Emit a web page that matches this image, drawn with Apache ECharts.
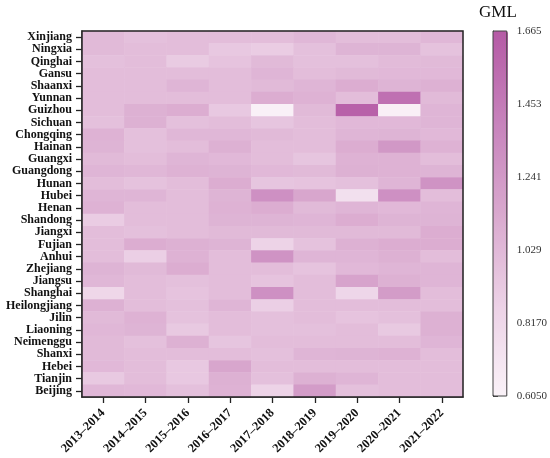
<!DOCTYPE html>
<html>
<head>
<meta charset="utf-8">
<script src="https://cdn.jsdelivr.net/npm/echarts@6/dist/echarts.min.js"></script>
<style>
html,body{margin:0;padding:0;background:#fff;}
#main{width:550px;height:458px;}
</style>
</head>
<body>
<div id="main"></div>
<script>
const years = ['2013–2014','2014–2015','2015–2016','2016–2017','2017–2018','2018–2019','2019–2020','2020–2021','2021–2022'];
const provinces = ['Xinjiang','Ningxia','Qinghai','Gansu','Shaanxi','Yunnan','Guizhou','Sichuan','Chongqing','Hainan','Guangxi','Guangdong','Hunan','Hubei','Henan','Shandong','Jiangxi','Fujian','Anhui','Zhejiang','Jiangsu','Shanghai','Heilongjiang','Jilin','Liaoning','Neimenggu','Shanxi','Hebei','Tianjin','Beijing'];
const gml = [
  [1.02, 0.98, 1.00, 1.00, 1.00, 1.04, 1.00, 1.00, 1.04],
  [1.02, 1.00, 1.00, 0.93, 0.90, 0.98, 1.06, 1.06, 0.97],
  [0.98, 1.00, 0.91, 0.96, 1.02, 0.98, 0.98, 1.01, 1.02],
  [1.00, 1.00, 1.00, 1.00, 1.05, 1.00, 1.02, 1.03, 1.03],
  [1.00, 1.00, 1.05, 1.00, 1.02, 1.05, 1.10, 1.06, 1.08],
  [1.00, 1.00, 1.00, 1.00, 1.10, 1.07, 1.00, 1.52, 1.02],
  [1.00, 1.08, 1.10, 0.93, 0.62, 1.02, 1.62, 0.63, 1.05],
  [0.98, 1.08, 0.98, 1.00, 0.95, 1.00, 1.03, 1.03, 1.05],
  [1.07, 0.98, 1.04, 1.04, 1.02, 1.00, 1.05, 1.06, 1.03],
  [1.06, 0.98, 1.00, 1.08, 1.00, 1.00, 1.10, 1.25, 1.07],
  [1.02, 1.00, 1.05, 1.03, 1.00, 0.95, 1.07, 1.07, 1.00],
  [1.05, 1.04, 1.07, 1.06, 1.03, 1.02, 1.08, 1.07, 1.06],
  [1.00, 0.97, 1.00, 1.10, 0.95, 0.96, 0.98, 1.05, 1.28],
  [1.05, 1.05, 1.00, 1.06, 1.30, 1.15, 0.75, 1.30, 1.00],
  [1.07, 1.00, 1.00, 1.07, 1.10, 1.02, 1.05, 1.03, 1.05],
  [0.90, 1.00, 1.00, 1.06, 1.06, 1.05, 1.10, 1.06, 1.06],
  [1.00, 0.98, 1.00, 1.02, 1.02, 1.02, 1.02, 1.02, 1.10],
  [1.00, 1.10, 1.08, 1.06, 0.85, 0.97, 1.08, 1.10, 1.10],
  [1.00, 0.88, 1.07, 1.00, 1.28, 1.05, 1.05, 1.08, 1.00],
  [1.06, 1.02, 1.10, 1.00, 1.00, 0.96, 1.03, 1.05, 1.05],
  [1.04, 1.00, 0.98, 1.00, 0.96, 1.00, 1.17, 1.08, 1.05],
  [0.82, 1.00, 0.96, 1.00, 1.30, 1.00, 0.83, 1.22, 1.00],
  [1.08, 1.00, 0.98, 1.05, 0.88, 1.00, 1.00, 1.00, 1.00],
  [1.02, 1.07, 0.97, 1.00, 0.98, 1.00, 0.96, 0.98, 1.08],
  [1.04, 1.06, 0.92, 1.00, 0.98, 0.98, 1.00, 0.92, 1.08],
  [1.02, 0.98, 1.08, 0.95, 1.00, 1.00, 1.00, 1.00, 1.05],
  [1.02, 1.00, 1.00, 1.00, 0.98, 1.05, 1.06, 1.07, 1.00],
  [1.03, 1.00, 0.93, 1.15, 1.00, 1.00, 1.00, 1.00, 1.00],
  [0.92, 1.00, 0.93, 1.08, 0.98, 1.08, 1.05, 1.00, 1.00],
  [1.04, 1.03, 0.98, 1.07, 0.85, 1.22, 0.98, 1.00, 1.00]
];
const scaleMin = 0.605, scaleMax = 1.665;
const colorTicks = [0.605, 0.817, 1.029, 1.241, 1.453, 1.665];
const colorTickLabels = ['0.6050', '0.8170', '1.029', '1.241', '1.453', '1.665'];

const cells = [];
provinces.forEach((p, i) => {
  years.forEach((y, j) => { cells.push([j, i, gml[i][j]]); });
});

const serif = '"Liberation Serif", "DejaVu Serif", serif';
const chart = echarts.init(document.getElementById('main'));
chart.setOption({
  animation: false,
  backgroundColor: '#fff',
  title: {
    text: 'GML', left: 479, top: 4, padding: 0,
    textStyle: { fontFamily: serif, fontSize: 17, fontWeight: 'normal', color: '#111' }
  },
  grid: [
    { left: 82, right: 87, top: 31, bottom: 61, show: true, borderColor: '#222', borderWidth: 1.5, z: 5, backgroundColor: 'transparent' },
    { left: 493, width: 15, top: 31, height: 365, show: true, borderColor: '#444', borderWidth: 1, z: 5, backgroundColor: 'transparent' }
  ],
  xAxis: [
    {
      type: 'category', data: years, gridIndex: 0,
      axisLine: { show: true, lineStyle: { color: '#222', width: 1.5 } },
      axisTick: { show: true, alignWithLabel: true, length: 6, lineStyle: { color: '#222', width: 1.3 } },
      axisLabel: { rotate: 45, interval: 0, margin: 14, fontFamily: serif, fontWeight: 'bold', fontSize: 12.5, color: '#111' },
      splitLine: { show: false }
    },
    { type: 'value', gridIndex: 1, show: false, min: 0, max: 1 }
  ],
  yAxis: [
    {
      type: 'category', data: provinces, inverse: true, gridIndex: 0,
      axisLine: { show: true, lineStyle: { color: '#222', width: 1.5 } },
      axisTick: { show: true, alignWithLabel: true, length: 6, lineStyle: { color: '#222', width: 1.3 } },
      axisLabel: { interval: 0, margin: 10, fontFamily: serif, fontWeight: 'bold', fontSize: 12, color: '#111' },
      splitLine: { show: false }
    },
    {
      type: 'value', gridIndex: 1, position: 'right',
      min: scaleMin, max: scaleMax, interval: 0.212,
      axisLine: { show: true, lineStyle: { color: '#444', width: 1 } },
      axisTick: { show: true, length: 5, inside: false, lineStyle: { color: '#444' } },
      splitLine: { show: false },
      axisLabel: {
        margin: 10, fontFamily: serif, fontSize: 11, color: '#333',
        formatter: function (v) {
          let best = 0;
          colorTicks.forEach((t, k) => { if (Math.abs(t - v) < Math.abs(colorTicks[best] - v)) best = k; });
          return colorTickLabels[best];
        }
      }
    }
  ],
  visualMap: {
    type: 'continuous', min: scaleMin, max: scaleMax, seriesIndex: 0,
    calculable: false, show: true, left: 493, top: 31, itemWidth: 15, itemHeight: 365,
    padding: 0, text: null, showLabel: false,
    inRange: { color: ['#faf2f8', '#ecd1e6', '#d9a8ce', '#c782bc', '#b55aa5'] }
  },
  series: [{
    type: 'heatmap', xAxisIndex: 0, yAxisIndex: 0, data: cells,
    itemStyle: { borderWidth: 0 },
    emphasis: { disabled: true }
  }]
});
</script>
</body>
</html>
